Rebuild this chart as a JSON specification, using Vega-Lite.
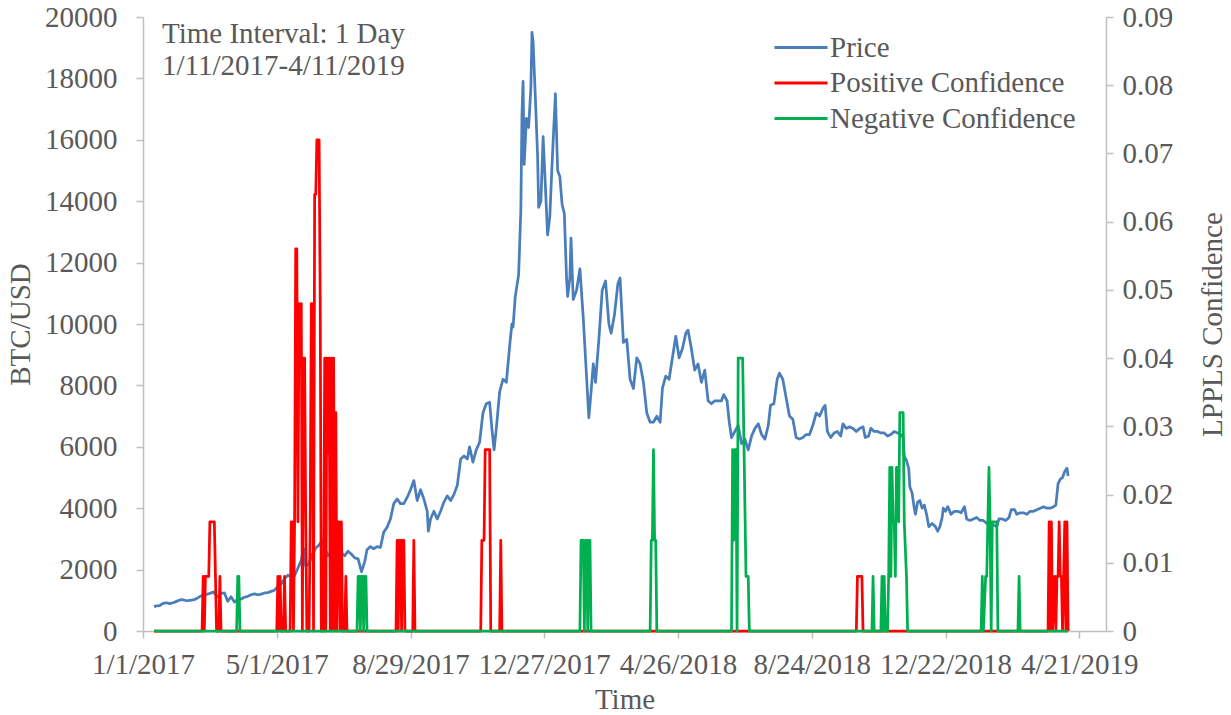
{
  "$schema": "https://vega.github.io/schema/vega-lite/v6.json",
  "width": 963,
  "height": 614,
  "autosize": {"type": "none"},
  "padding": {"left": 143, "top": 17, "right": 125, "bottom": 84},
  "background": "white",
  "config": {
    "view": {"stroke": null},
    "font": "Liberation Serif",
    "axis": {
      "domainColor": "#BFBFBF", "domainWidth": 1.5, "tickColor": "#BFBFBF", "tickWidth": 1.5,
      "grid": false, "labelColor": "#595959", "titleColor": "#595959",
      "labelFont": "Liberation Serif", "titleFont": "Liberation Serif",
      "labelFontSize": 29, "titleFontSize": 29, "titleFontWeight": "normal"
    },
    "axisX": {
      "labelExpr": "utcFormat(datum.value, '%-m/%-d/%Y')", "labelFlush": false, "labelOverlap": false,
      "tickSize": 7, "labelPadding": 12, "titlePadding": 6
    },
    "legend": {
      "orient": "none", "legendX": 642, "legendY": 14.5, "padding": 0,
      "symbolType": "M-1.83,0H1.83", "symbolSize": 841, "symbolStrokeWidth": 3,
      "labelFont": "Liberation Serif", "labelFontSize": 29, "labelColor": "#595959", "labelLimit": 0,
      "rowPadding": 4.5, "labelOffset": 13
    }
  },
  "datasets": {
    "price": [
      {"date":"2017-01-11","s":"Price","v":780},{"date":"2017-01-13","s":"Price","v":820},{"date":"2017-01-16","s":"Price","v":830},{"date":"2017-01-19","s":"Price","v":900},{"date":"2017-01-22","s":"Price","v":920},{"date":"2017-01-25","s":"Price","v":890},{"date":"2017-01-28","s":"Price","v":920},{"date":"2017-01-31","s":"Price","v":965},
      {"date":"2017-02-03","s":"Price","v":1010},{"date":"2017-02-06","s":"Price","v":1020},{"date":"2017-02-09","s":"Price","v":985},{"date":"2017-02-12","s":"Price","v":1000},{"date":"2017-02-15","s":"Price","v":1010},{"date":"2017-02-18","s":"Price","v":1055},{"date":"2017-02-21","s":"Price","v":1120},{"date":"2017-02-24","s":"Price","v":1170},{"date":"2017-02-27","s":"Price","v":1195},
      {"date":"2017-03-02","s":"Price","v":1225},{"date":"2017-03-05","s":"Price","v":1270},{"date":"2017-03-08","s":"Price","v":1150},{"date":"2017-03-10","s":"Price","v":1110},{"date":"2017-03-12","s":"Price","v":1230},{"date":"2017-03-15","s":"Price","v":1245},{"date":"2017-03-18","s":"Price","v":970},{"date":"2017-03-21","s":"Price","v":1115},{"date":"2017-03-24","s":"Price","v":940},{"date":"2017-03-27","s":"Price","v":1040},{"date":"2017-03-30","s":"Price","v":1040},
      {"date":"2017-04-02","s":"Price","v":1100},{"date":"2017-04-05","s":"Price","v":1130},{"date":"2017-04-08","s":"Price","v":1180},{"date":"2017-04-11","s":"Price","v":1210},{"date":"2017-04-14","s":"Price","v":1180},{"date":"2017-04-17","s":"Price","v":1200},{"date":"2017-04-20","s":"Price","v":1240},{"date":"2017-04-23","s":"Price","v":1250},{"date":"2017-04-26","s":"Price","v":1290},{"date":"2017-04-29","s":"Price","v":1330},
      {"date":"2017-05-02","s":"Price","v":1450},{"date":"2017-05-05","s":"Price","v":1530},{"date":"2017-05-08","s":"Price","v":1700},{"date":"2017-05-11","s":"Price","v":1820},{"date":"2017-05-14","s":"Price","v":1770},{"date":"2017-05-17","s":"Price","v":1800},{"date":"2017-05-20","s":"Price","v":2050},{"date":"2017-05-23","s":"Price","v":2300},{"date":"2017-05-25","s":"Price","v":2700},{"date":"2017-05-27","s":"Price","v":2100},{"date":"2017-05-30","s":"Price","v":2200},
      {"date":"2017-06-02","s":"Price","v":2500},{"date":"2017-06-05","s":"Price","v":2700},{"date":"2017-06-08","s":"Price","v":2800},{"date":"2017-06-11","s":"Price","v":2960},{"date":"2017-06-13","s":"Price","v":2700},{"date":"2017-06-16","s":"Price","v":2450},{"date":"2017-06-19","s":"Price","v":2600},{"date":"2017-06-22","s":"Price","v":2700},{"date":"2017-06-25","s":"Price","v":2550},{"date":"2017-06-28","s":"Price","v":2550},
      {"date":"2017-07-01","s":"Price","v":2450},{"date":"2017-07-04","s":"Price","v":2600},{"date":"2017-07-07","s":"Price","v":2500},{"date":"2017-07-10","s":"Price","v":2380},{"date":"2017-07-13","s":"Price","v":2350},{"date":"2017-07-16","s":"Price","v":1930},{"date":"2017-07-19","s":"Price","v":2270},{"date":"2017-07-21","s":"Price","v":2650},{"date":"2017-07-24","s":"Price","v":2750},{"date":"2017-07-27","s":"Price","v":2680},{"date":"2017-07-30","s":"Price","v":2750},
      {"date":"2017-08-02","s":"Price","v":2720},{"date":"2017-08-05","s":"Price","v":3220},{"date":"2017-08-08","s":"Price","v":3380},{"date":"2017-08-11","s":"Price","v":3650},{"date":"2017-08-14","s":"Price","v":4150},{"date":"2017-08-17","s":"Price","v":4300},{"date":"2017-08-20","s":"Price","v":4150},{"date":"2017-08-23","s":"Price","v":4150},{"date":"2017-08-26","s":"Price","v":4350},{"date":"2017-08-29","s":"Price","v":4600},
      {"date":"2017-09-01","s":"Price","v":4900},{"date":"2017-09-04","s":"Price","v":4250},{"date":"2017-09-07","s":"Price","v":4600},{"date":"2017-09-10","s":"Price","v":4300},{"date":"2017-09-13","s":"Price","v":3900},{"date":"2017-09-14","s":"Price","v":3250},{"date":"2017-09-16","s":"Price","v":3650},{"date":"2017-09-19","s":"Price","v":3900},{"date":"2017-09-22","s":"Price","v":3650},{"date":"2017-09-25","s":"Price","v":3900},{"date":"2017-09-28","s":"Price","v":4200},
      {"date":"2017-10-01","s":"Price","v":4400},{"date":"2017-10-04","s":"Price","v":4250},{"date":"2017-10-07","s":"Price","v":4450},{"date":"2017-10-10","s":"Price","v":4750},{"date":"2017-10-13","s":"Price","v":5600},{"date":"2017-10-16","s":"Price","v":5700},{"date":"2017-10-19","s":"Price","v":5600},{"date":"2017-10-21","s":"Price","v":6000},{"date":"2017-10-24","s":"Price","v":5500},{"date":"2017-10-27","s":"Price","v":5900},{"date":"2017-10-30","s":"Price","v":6150},
      {"date":"2017-11-02","s":"Price","v":7100},{"date":"2017-11-05","s":"Price","v":7400},{"date":"2017-11-08","s":"Price","v":7450},{"date":"2017-11-10","s":"Price","v":6600},{"date":"2017-11-12","s":"Price","v":5900},{"date":"2017-11-14","s":"Price","v":6600},{"date":"2017-11-17","s":"Price","v":7800},{"date":"2017-11-20","s":"Price","v":8200},{"date":"2017-11-23","s":"Price","v":8100},{"date":"2017-11-26","s":"Price","v":9300},{"date":"2017-11-28","s":"Price","v":10000},{"date":"2017-11-29","s":"Price","v":9900},
      {"date":"2017-12-01","s":"Price","v":10900},{"date":"2017-12-04","s":"Price","v":11600},{"date":"2017-12-06","s":"Price","v":13700},{"date":"2017-12-07","s":"Price","v":16800},{"date":"2017-12-08","s":"Price","v":17900},{"date":"2017-12-09","s":"Price","v":15200},{"date":"2017-12-11","s":"Price","v":16700},{"date":"2017-12-13","s":"Price","v":16400},{"date":"2017-12-15","s":"Price","v":17700},{"date":"2017-12-16","s":"Price","v":19500},{"date":"2017-12-17","s":"Price","v":19200},{"date":"2017-12-19","s":"Price","v":17400},{"date":"2017-12-21","s":"Price","v":15500},{"date":"2017-12-22","s":"Price","v":13800},{"date":"2017-12-24","s":"Price","v":14000},{"date":"2017-12-26","s":"Price","v":16100},{"date":"2017-12-28","s":"Price","v":14500},{"date":"2017-12-30","s":"Price","v":12900},
      {"date":"2018-01-01","s":"Price","v":13500},{"date":"2018-01-03","s":"Price","v":15200},{"date":"2018-01-06","s":"Price","v":17500},{"date":"2018-01-08","s":"Price","v":15000},{"date":"2018-01-10","s":"Price","v":14800},{"date":"2018-01-12","s":"Price","v":13900},{"date":"2018-01-14","s":"Price","v":13600},{"date":"2018-01-16","s":"Price","v":11500},{"date":"2018-01-17","s":"Price","v":10900},{"date":"2018-01-19","s":"Price","v":11500},{"date":"2018-01-20","s":"Price","v":12800},{"date":"2018-01-22","s":"Price","v":10800},{"date":"2018-01-25","s":"Price","v":11100},{"date":"2018-01-28","s":"Price","v":11800},{"date":"2018-01-31","s":"Price","v":10200},
      {"date":"2018-02-02","s":"Price","v":8900},{"date":"2018-02-05","s":"Price","v":6950},{"date":"2018-02-07","s":"Price","v":7800},{"date":"2018-02-09","s":"Price","v":8700},{"date":"2018-02-11","s":"Price","v":8100},{"date":"2018-02-14","s":"Price","v":9500},{"date":"2018-02-17","s":"Price","v":11100},{"date":"2018-02-20","s":"Price","v":11400},{"date":"2018-02-23","s":"Price","v":10000},{"date":"2018-02-25","s":"Price","v":9700},{"date":"2018-02-28","s":"Price","v":10300},
      {"date":"2018-03-03","s":"Price","v":11300},{"date":"2018-03-05","s":"Price","v":11500},{"date":"2018-03-08","s":"Price","v":9400},{"date":"2018-03-11","s":"Price","v":9500},{"date":"2018-03-14","s":"Price","v":8200},{"date":"2018-03-17","s":"Price","v":7900},{"date":"2018-03-20","s":"Price","v":8900},{"date":"2018-03-23","s":"Price","v":8700},{"date":"2018-03-26","s":"Price","v":8100},{"date":"2018-03-29","s":"Price","v":7100},
      {"date":"2018-04-01","s":"Price","v":6800},{"date":"2018-04-04","s":"Price","v":6800},{"date":"2018-04-07","s":"Price","v":7000},{"date":"2018-04-10","s":"Price","v":6800},{"date":"2018-04-12","s":"Price","v":7900},{"date":"2018-04-15","s":"Price","v":8300},{"date":"2018-04-18","s":"Price","v":8200},{"date":"2018-04-21","s":"Price","v":8900},{"date":"2018-04-24","s":"Price","v":9600},{"date":"2018-04-27","s":"Price","v":8900},{"date":"2018-04-30","s":"Price","v":9200},
      {"date":"2018-05-03","s":"Price","v":9700},{"date":"2018-05-05","s":"Price","v":9800},{"date":"2018-05-08","s":"Price","v":9200},{"date":"2018-05-11","s":"Price","v":8500},{"date":"2018-05-14","s":"Price","v":8700},{"date":"2018-05-17","s":"Price","v":8100},{"date":"2018-05-20","s":"Price","v":8500},{"date":"2018-05-23","s":"Price","v":7500},{"date":"2018-05-26","s":"Price","v":7400},{"date":"2018-05-29","s":"Price","v":7500},
      {"date":"2018-06-01","s":"Price","v":7500},{"date":"2018-06-04","s":"Price","v":7500},{"date":"2018-06-06","s":"Price","v":7700},{"date":"2018-06-09","s":"Price","v":7500},{"date":"2018-06-11","s":"Price","v":6800},{"date":"2018-06-13","s":"Price","v":6300},{"date":"2018-06-16","s":"Price","v":6500},{"date":"2018-06-19","s":"Price","v":6700},{"date":"2018-06-22","s":"Price","v":6100},{"date":"2018-06-25","s":"Price","v":6250},{"date":"2018-06-28","s":"Price","v":5900},
      {"date":"2018-07-01","s":"Price","v":6350},{"date":"2018-07-04","s":"Price","v":6600},{"date":"2018-07-07","s":"Price","v":6750},{"date":"2018-07-10","s":"Price","v":6400},{"date":"2018-07-13","s":"Price","v":6250},{"date":"2018-07-16","s":"Price","v":6700},{"date":"2018-07-18","s":"Price","v":7350},{"date":"2018-07-21","s":"Price","v":7400},{"date":"2018-07-24","s":"Price","v":8200},{"date":"2018-07-26","s":"Price","v":8400},{"date":"2018-07-29","s":"Price","v":8200},
      {"date":"2018-08-01","s":"Price","v":7600},{"date":"2018-08-04","s":"Price","v":7000},{"date":"2018-08-07","s":"Price","v":6900},{"date":"2018-08-10","s":"Price","v":6300},{"date":"2018-08-13","s":"Price","v":6250},{"date":"2018-08-16","s":"Price","v":6300},{"date":"2018-08-19","s":"Price","v":6400},{"date":"2018-08-22","s":"Price","v":6400},{"date":"2018-08-25","s":"Price","v":6700},{"date":"2018-08-28","s":"Price","v":7100},{"date":"2018-08-31","s":"Price","v":7000},
      {"date":"2018-09-03","s":"Price","v":7250},{"date":"2018-09-05","s":"Price","v":7350},{"date":"2018-09-07","s":"Price","v":6500},{"date":"2018-09-10","s":"Price","v":6300},{"date":"2018-09-13","s":"Price","v":6450},{"date":"2018-09-16","s":"Price","v":6500},{"date":"2018-09-19","s":"Price","v":6350},{"date":"2018-09-21","s":"Price","v":6750},{"date":"2018-09-24","s":"Price","v":6600},{"date":"2018-09-27","s":"Price","v":6650},{"date":"2018-09-30","s":"Price","v":6600},
      {"date":"2018-10-03","s":"Price","v":6500},{"date":"2018-10-06","s":"Price","v":6600},{"date":"2018-10-09","s":"Price","v":6650},{"date":"2018-10-11","s":"Price","v":6300},{"date":"2018-10-14","s":"Price","v":6350},{"date":"2018-10-16","s":"Price","v":6600},{"date":"2018-10-19","s":"Price","v":6500},{"date":"2018-10-22","s":"Price","v":6500},{"date":"2018-10-25","s":"Price","v":6450},{"date":"2018-10-28","s":"Price","v":6450},{"date":"2018-10-31","s":"Price","v":6350},
      {"date":"2018-11-03","s":"Price","v":6400},{"date":"2018-11-06","s":"Price","v":6500},{"date":"2018-11-09","s":"Price","v":6450},{"date":"2018-11-12","s":"Price","v":6400},{"date":"2018-11-14","s":"Price","v":6300},{"date":"2018-11-15","s":"Price","v":5700},{"date":"2018-11-17","s":"Price","v":5550},{"date":"2018-11-19","s":"Price","v":5300},{"date":"2018-11-20","s":"Price","v":4700},{"date":"2018-11-22","s":"Price","v":4500},{"date":"2018-11-24","s":"Price","v":4000},{"date":"2018-11-25","s":"Price","v":3800},{"date":"2018-11-27","s":"Price","v":4200},{"date":"2018-11-29","s":"Price","v":4250},
      {"date":"2018-12-01","s":"Price","v":4000},{"date":"2018-12-03","s":"Price","v":4100},{"date":"2018-12-05","s":"Price","v":3800},{"date":"2018-12-07","s":"Price","v":3400},{"date":"2018-12-10","s":"Price","v":3500},{"date":"2018-12-13","s":"Price","v":3400},{"date":"2018-12-15","s":"Price","v":3250},{"date":"2018-12-17","s":"Price","v":3400},{"date":"2018-12-19","s":"Price","v":3700},{"date":"2018-12-20","s":"Price","v":4000},{"date":"2018-12-22","s":"Price","v":3900},{"date":"2018-12-24","s":"Price","v":4050},{"date":"2018-12-27","s":"Price","v":3800},{"date":"2018-12-30","s":"Price","v":3900},
      {"date":"2019-01-02","s":"Price","v":3900},{"date":"2019-01-05","s":"Price","v":3850},{"date":"2019-01-08","s":"Price","v":4050},{"date":"2019-01-10","s":"Price","v":3650},{"date":"2019-01-13","s":"Price","v":3600},{"date":"2019-01-16","s":"Price","v":3650},{"date":"2019-01-19","s":"Price","v":3700},{"date":"2019-01-22","s":"Price","v":3600},{"date":"2019-01-25","s":"Price","v":3600},{"date":"2019-01-28","s":"Price","v":3500},{"date":"2019-01-31","s":"Price","v":3500},
      {"date":"2019-02-03","s":"Price","v":3450},{"date":"2019-02-06","s":"Price","v":3400},{"date":"2019-02-08","s":"Price","v":3650},{"date":"2019-02-11","s":"Price","v":3650},{"date":"2019-02-14","s":"Price","v":3600},{"date":"2019-02-17","s":"Price","v":3700},{"date":"2019-02-19","s":"Price","v":3950},{"date":"2019-02-22","s":"Price","v":3950},{"date":"2019-02-24","s":"Price","v":3800},{"date":"2019-02-27","s":"Price","v":3850},
      {"date":"2019-03-02","s":"Price","v":3850},{"date":"2019-03-05","s":"Price","v":3800},{"date":"2019-03-08","s":"Price","v":3900},{"date":"2019-03-11","s":"Price","v":3900},{"date":"2019-03-14","s":"Price","v":3950},{"date":"2019-03-17","s":"Price","v":4000},{"date":"2019-03-20","s":"Price","v":4050},{"date":"2019-03-23","s":"Price","v":4000},{"date":"2019-03-26","s":"Price","v":4000},{"date":"2019-03-29","s":"Price","v":4050},{"date":"2019-03-31","s":"Price","v":4100},
      {"date":"2019-04-02","s":"Price","v":4800},{"date":"2019-04-04","s":"Price","v":4950},{"date":"2019-04-06","s":"Price","v":5000},{"date":"2019-04-08","s":"Price","v":5200},{"date":"2019-04-10","s":"Price","v":5300},{"date":"2019-04-11","s":"Price","v":5050}
    ],
    "conf": [
      {"date":"2017-01-11","s":"Positive Confidence","v":0},{"date":"2017-02-23","s":"Positive Confidence","v":0},{"date":"2017-02-24","s":"Positive Confidence","v":0.008},{"date":"2017-02-25","s":"Positive Confidence","v":0},{"date":"2017-02-26","s":"Positive Confidence","v":0.008},{"date":"2017-03-01","s":"Positive Confidence","v":0.008},{"date":"2017-03-02","s":"Positive Confidence","v":0.016},{"date":"2017-03-06","s":"Positive Confidence","v":0.016},{"date":"2017-03-07","s":"Positive Confidence","v":0.008},{"date":"2017-03-08","s":"Positive Confidence","v":0},{"date":"2017-03-10","s":"Positive Confidence","v":0},{"date":"2017-03-11","s":"Positive Confidence","v":0.008},{"date":"2017-03-12","s":"Positive Confidence","v":0},
      {"date":"2017-05-01","s":"Positive Confidence","v":0},{"date":"2017-05-02","s":"Positive Confidence","v":0.008},{"date":"2017-05-03","s":"Positive Confidence","v":0},{"date":"2017-05-04","s":"Positive Confidence","v":0.008},{"date":"2017-05-05","s":"Positive Confidence","v":0},{"date":"2017-05-07","s":"Positive Confidence","v":0},{"date":"2017-05-08","s":"Positive Confidence","v":0.008},{"date":"2017-05-09","s":"Positive Confidence","v":0},{"date":"2017-05-13","s":"Positive Confidence","v":0},{"date":"2017-05-14","s":"Positive Confidence","v":0.016},{"date":"2017-05-15","s":"Positive Confidence","v":0.016},{"date":"2017-05-16","s":"Positive Confidence","v":0},{"date":"2017-05-17","s":"Positive Confidence","v":0.016},{"date":"2017-05-18","s":"Positive Confidence","v":0.056},{"date":"2017-05-19","s":"Positive Confidence","v":0.056},{"date":"2017-05-20","s":"Positive Confidence","v":0.016},{"date":"2017-05-21","s":"Positive Confidence","v":0.048},{"date":"2017-05-22","s":"Positive Confidence","v":0.04},{"date":"2017-05-23","s":"Positive Confidence","v":0.048},{"date":"2017-05-24","s":"Positive Confidence","v":0},{"date":"2017-05-25","s":"Positive Confidence","v":0.04},{"date":"2017-05-26","s":"Positive Confidence","v":0.04},{"date":"2017-05-27","s":"Positive Confidence","v":0.016},{"date":"2017-05-28","s":"Positive Confidence","v":0},{"date":"2017-05-30","s":"Positive Confidence","v":0},{"date":"2017-05-31","s":"Positive Confidence","v":0.016},{"date":"2017-06-01","s":"Positive Confidence","v":0.048},{"date":"2017-06-02","s":"Positive Confidence","v":0.048},{"date":"2017-06-03","s":"Positive Confidence","v":0},{"date":"2017-06-04","s":"Positive Confidence","v":0.064},{"date":"2017-06-05","s":"Positive Confidence","v":0.064},{"date":"2017-06-06","s":"Positive Confidence","v":0.072},{"date":"2017-06-08","s":"Positive Confidence","v":0.072},{"date":"2017-06-09","s":"Positive Confidence","v":0.048},{"date":"2017-06-10","s":"Positive Confidence","v":0},{"date":"2017-06-12","s":"Positive Confidence","v":0},{"date":"2017-06-13","s":"Positive Confidence","v":0.04},{"date":"2017-06-14","s":"Positive Confidence","v":0},{"date":"2017-06-15","s":"Positive Confidence","v":0.04},{"date":"2017-06-16","s":"Positive Confidence","v":0.026},{"date":"2017-06-17","s":"Positive Confidence","v":0.04},{"date":"2017-06-18","s":"Positive Confidence","v":0},{"date":"2017-06-19","s":"Positive Confidence","v":0.04},{"date":"2017-06-20","s":"Positive Confidence","v":0},{"date":"2017-06-21","s":"Positive Confidence","v":0.04},{"date":"2017-06-22","s":"Positive Confidence","v":0},{"date":"2017-06-23","s":"Positive Confidence","v":0.032},{"date":"2017-06-24","s":"Positive Confidence","v":0},{"date":"2017-06-25","s":"Positive Confidence","v":0.016},{"date":"2017-06-26","s":"Positive Confidence","v":0.016},{"date":"2017-06-27","s":"Positive Confidence","v":0},{"date":"2017-06-28","s":"Positive Confidence","v":0.016},{"date":"2017-06-29","s":"Positive Confidence","v":0},{"date":"2017-07-01","s":"Positive Confidence","v":0},{"date":"2017-07-02","s":"Positive Confidence","v":0.008},{"date":"2017-07-03","s":"Positive Confidence","v":0},
      {"date":"2017-08-16","s":"Positive Confidence","v":0},{"date":"2017-08-17","s":"Positive Confidence","v":0.0133},{"date":"2017-08-18","s":"Positive Confidence","v":0},{"date":"2017-08-19","s":"Positive Confidence","v":0.0133},{"date":"2017-08-20","s":"Positive Confidence","v":0.0133},{"date":"2017-08-21","s":"Positive Confidence","v":0},{"date":"2017-08-22","s":"Positive Confidence","v":0.0133},{"date":"2017-08-23","s":"Positive Confidence","v":0.0133},{"date":"2017-08-24","s":"Positive Confidence","v":0},{"date":"2017-08-31","s":"Positive Confidence","v":0},{"date":"2017-09-01","s":"Positive Confidence","v":0.0133},{"date":"2017-09-02","s":"Positive Confidence","v":0},
      {"date":"2017-10-31","s":"Positive Confidence","v":0},{"date":"2017-11-01","s":"Positive Confidence","v":0.0133},{"date":"2017-11-03","s":"Positive Confidence","v":0.0133},{"date":"2017-11-04","s":"Positive Confidence","v":0.0266},{"date":"2017-11-08","s":"Positive Confidence","v":0.0266},{"date":"2017-11-09","s":"Positive Confidence","v":0},{"date":"2017-11-17","s":"Positive Confidence","v":0},{"date":"2017-11-18","s":"Positive Confidence","v":0.0133},{"date":"2017-11-19","s":"Positive Confidence","v":0},
      {"date":"2018-10-03","s":"Positive Confidence","v":0},{"date":"2018-10-04","s":"Positive Confidence","v":0.008},{"date":"2018-10-08","s":"Positive Confidence","v":0.008},{"date":"2018-10-09","s":"Positive Confidence","v":0},
      {"date":"2019-03-24","s":"Positive Confidence","v":0},{"date":"2019-03-25","s":"Positive Confidence","v":0.016},{"date":"2019-03-26","s":"Positive Confidence","v":0},{"date":"2019-03-27","s":"Positive Confidence","v":0.016},{"date":"2019-03-28","s":"Positive Confidence","v":0},{"date":"2019-03-30","s":"Positive Confidence","v":0.008},{"date":"2019-03-31","s":"Positive Confidence","v":0},{"date":"2019-04-01","s":"Positive Confidence","v":0.008},{"date":"2019-04-02","s":"Positive Confidence","v":0.008},{"date":"2019-04-03","s":"Positive Confidence","v":0.016},{"date":"2019-04-04","s":"Positive Confidence","v":0.008},{"date":"2019-04-05","s":"Positive Confidence","v":0.008},{"date":"2019-04-06","s":"Positive Confidence","v":0},{"date":"2019-04-07","s":"Positive Confidence","v":0.008},{"date":"2019-04-08","s":"Positive Confidence","v":0.016},{"date":"2019-04-09","s":"Positive Confidence","v":0},{"date":"2019-04-10","s":"Positive Confidence","v":0.016},{"date":"2019-04-11","s":"Positive Confidence","v":0},
      {"date":"2017-01-11","s":"Negative Confidence","v":0},{"date":"2017-03-26","s":"Negative Confidence","v":0},{"date":"2017-03-27","s":"Negative Confidence","v":0.008},{"date":"2017-03-28","s":"Negative Confidence","v":0.008},{"date":"2017-03-29","s":"Negative Confidence","v":0},
      {"date":"2017-07-12","s":"Negative Confidence","v":0},{"date":"2017-07-13","s":"Negative Confidence","v":0.008},{"date":"2017-07-14","s":"Negative Confidence","v":0.008},{"date":"2017-07-15","s":"Negative Confidence","v":0},{"date":"2017-07-16","s":"Negative Confidence","v":0.008},{"date":"2017-07-17","s":"Negative Confidence","v":0.008},{"date":"2017-07-18","s":"Negative Confidence","v":0},{"date":"2017-07-19","s":"Negative Confidence","v":0.008},{"date":"2017-07-20","s":"Negative Confidence","v":0.008},{"date":"2017-07-21","s":"Negative Confidence","v":0},
      {"date":"2018-01-28","s":"Negative Confidence","v":0},{"date":"2018-01-29","s":"Negative Confidence","v":0.0133},{"date":"2018-01-31","s":"Negative Confidence","v":0.0133},{"date":"2018-02-01","s":"Negative Confidence","v":0},{"date":"2018-02-02","s":"Negative Confidence","v":0.0133},{"date":"2018-02-03","s":"Negative Confidence","v":0.0133},{"date":"2018-02-04","s":"Negative Confidence","v":0},{"date":"2018-02-05","s":"Negative Confidence","v":0.0133},{"date":"2018-02-06","s":"Negative Confidence","v":0.0133},{"date":"2018-02-07","s":"Negative Confidence","v":0},
      {"date":"2018-04-01","s":"Negative Confidence","v":0},{"date":"2018-04-02","s":"Negative Confidence","v":0.0133},{"date":"2018-04-03","s":"Negative Confidence","v":0.0133},{"date":"2018-04-04","s":"Negative Confidence","v":0.0266},{"date":"2018-04-05","s":"Negative Confidence","v":0.0133},{"date":"2018-04-06","s":"Negative Confidence","v":0.0133},{"date":"2018-04-07","s":"Negative Confidence","v":0},
      {"date":"2018-06-13","s":"Negative Confidence","v":0},{"date":"2018-06-14","s":"Negative Confidence","v":0.0266},{"date":"2018-06-15","s":"Negative Confidence","v":0.0133},{"date":"2018-06-16","s":"Negative Confidence","v":0.0266},{"date":"2018-06-17","s":"Negative Confidence","v":0.0266},{"date":"2018-06-18","s":"Negative Confidence","v":0},{"date":"2018-06-19","s":"Negative Confidence","v":0.04},{"date":"2018-06-23","s":"Negative Confidence","v":0.04},{"date":"2018-06-26","s":"Negative Confidence","v":0.008},{"date":"2018-06-28","s":"Negative Confidence","v":0.008},{"date":"2018-06-29","s":"Negative Confidence","v":0},
      {"date":"2018-10-17","s":"Negative Confidence","v":0},{"date":"2018-10-18","s":"Negative Confidence","v":0.008},{"date":"2018-10-19","s":"Negative Confidence","v":0},{"date":"2018-10-25","s":"Negative Confidence","v":0},{"date":"2018-10-26","s":"Negative Confidence","v":0.008},{"date":"2018-10-27","s":"Negative Confidence","v":0},{"date":"2018-10-28","s":"Negative Confidence","v":0.008},{"date":"2018-10-29","s":"Negative Confidence","v":0},{"date":"2018-10-31","s":"Negative Confidence","v":0},{"date":"2018-11-01","s":"Negative Confidence","v":0.008},{"date":"2018-11-02","s":"Negative Confidence","v":0.024},{"date":"2018-11-03","s":"Negative Confidence","v":0.008},{"date":"2018-11-04","s":"Negative Confidence","v":0.024},{"date":"2018-11-05","s":"Negative Confidence","v":0.016},{"date":"2018-11-06","s":"Negative Confidence","v":0.016},{"date":"2018-11-07","s":"Negative Confidence","v":0.008},{"date":"2018-11-08","s":"Negative Confidence","v":0.024},{"date":"2018-11-09","s":"Negative Confidence","v":0.024},{"date":"2018-11-10","s":"Negative Confidence","v":0.016},{"date":"2018-11-11","s":"Negative Confidence","v":0.032},{"date":"2018-11-14","s":"Negative Confidence","v":0.032},{"date":"2018-11-15","s":"Negative Confidence","v":0.016},{"date":"2018-11-17","s":"Negative Confidence","v":0.008},{"date":"2018-11-18","s":"Negative Confidence","v":0},
      {"date":"2019-01-23","s":"Negative Confidence","v":0},{"date":"2019-01-24","s":"Negative Confidence","v":0.008},{"date":"2019-01-25","s":"Negative Confidence","v":0},{"date":"2019-01-27","s":"Negative Confidence","v":0.008},{"date":"2019-01-28","s":"Negative Confidence","v":0.008},{"date":"2019-01-29","s":"Negative Confidence","v":0.016},{"date":"2019-01-30","s":"Negative Confidence","v":0.024},{"date":"2019-01-31","s":"Negative Confidence","v":0.016},{"date":"2019-02-01","s":"Negative Confidence","v":0},{"date":"2019-02-02","s":"Negative Confidence","v":0.016},{"date":"2019-02-06","s":"Negative Confidence","v":0.016},{"date":"2019-02-07","s":"Negative Confidence","v":0},{"date":"2019-02-25","s":"Negative Confidence","v":0},{"date":"2019-02-26","s":"Negative Confidence","v":0.008},{"date":"2019-02-27","s":"Negative Confidence","v":0},{"date":"2019-04-11","s":"Negative Confidence","v":0}
    ]
  },
  "layer": [
    {
      "layer": [
        {
          "data": {"name": "price"},
          "mark": {"type": "line", "strokeWidth": 2.75, "strokeJoin": "round"},
          "encoding": {
            "x": {"field": "date", "type": "temporal", "title": "Time",
              "scale": {"type": "utc", "domain": [{"year": 2017, "month": 1, "date": 1, "utc": true}, {"year": 2019, "month": 5, "date": 15, "utc": true}]},
              "axis": {"values": [{"year": 2017, "month": 1, "date": 1, "utc": true}, {"year": 2017, "month": 5, "date": 1, "utc": true}, {"year": 2017, "month": 8, "date": 29, "utc": true}, {"year": 2017, "month": 12, "date": 27, "utc": true}, {"year": 2018, "month": 4, "date": 26, "utc": true}, {"year": 2018, "month": 8, "date": 24, "utc": true}, {"year": 2018, "month": 12, "date": 22, "utc": true}, {"year": 2019, "month": 4, "date": 21, "utc": true}]}},
            "y": {"field": "v", "type": "quantitative", "scale": {"domain": [0, 20000]},
              "axis": {"title": "BTC/USD", "format": "d", "values": [0, 2000, 4000, 6000, 8000, 10000, 12000, 14000, 16000, 18000, 20000], "tickSize": 7, "labelPadding": 19, "titlePadding": 9}},
            "color": {"field": "s", "type": "nominal",
              "scale": {"domain": ["Price", "Positive Confidence", "Negative Confidence"], "range": ["#4A7EBB", "#FF0000", "#00B050"]},
              "legend": {"title": null}}
          }
        },
        {
          "data": {"values": [{"note": "annotation"}]},
          "mark": {"type": "text", "align": "left", "baseline": "top", "lineHeight": 32, "font": "Liberation Serif", "fontSize": 29, "color": "#595959"},
          "encoding": {
            "x": {"datum": {"year": 2017, "month": 1, "date": 18, "utc": true}, "type": "temporal", "title": "Time",
              "scale": {"type": "utc", "domain": [{"year": 2017, "month": 1, "date": 1, "utc": true}, {"year": 2019, "month": 5, "date": 15, "utc": true}]},
              "axis": {"values": [{"year": 2017, "month": 1, "date": 1, "utc": true}, {"year": 2017, "month": 5, "date": 1, "utc": true}, {"year": 2017, "month": 8, "date": 29, "utc": true}, {"year": 2017, "month": 12, "date": 27, "utc": true}, {"year": 2018, "month": 4, "date": 26, "utc": true}, {"year": 2018, "month": 8, "date": 24, "utc": true}, {"year": 2018, "month": 12, "date": 22, "utc": true}, {"year": 2019, "month": 4, "date": 21, "utc": true}]}},
            "y": {"datum": 19900, "type": "quantitative", "title": "BTC/USD", "scale": {"domain": [0, 20000]}},
            "text": {"value": ["Time Interval: 1 Day", "1/11/2017-4/11/2019"]}
          }
        }
      ]
    },
    {
      "data": {"name": "conf"},
      "layer": [
        {
          "transform": [{"filter": "datum.s === 'Positive Confidence'"}],
          "mark": {"type": "line", "strokeWidth": 2.75, "strokeJoin": "round"},
          "encoding": {
            "x": {"field": "date", "type": "temporal", "title": "Time",
              "scale": {"type": "utc", "domain": [{"year": 2017, "month": 1, "date": 1, "utc": true}, {"year": 2019, "month": 5, "date": 15, "utc": true}]},
              "axis": {"values": [{"year": 2017, "month": 1, "date": 1, "utc": true}, {"year": 2017, "month": 5, "date": 1, "utc": true}, {"year": 2017, "month": 8, "date": 29, "utc": true}, {"year": 2017, "month": 12, "date": 27, "utc": true}, {"year": 2018, "month": 4, "date": 26, "utc": true}, {"year": 2018, "month": 8, "date": 24, "utc": true}, {"year": 2018, "month": 12, "date": 22, "utc": true}, {"year": 2019, "month": 4, "date": 21, "utc": true}]}},
            "y": {"field": "v", "type": "quantitative", "scale": {"domain": [0, 0.09]},
              "axis": {"title": "LPPLS Confidence", "orient": "right", "values": [0, 0.01, 0.02, 0.03, 0.04, 0.05, 0.06, 0.07, 0.08, 0.09],
                "labelExpr": "datum.value == 0 ? '0' : format(datum.value, '.2f')", "tickSize": 7, "labelPadding": 9, "titlePadding": 55, "titleAngle": 270}},
            "color": {"field": "s", "type": "nominal",
              "scale": {"domain": ["Price", "Positive Confidence", "Negative Confidence"], "range": ["#4A7EBB", "#FF0000", "#00B050"]}}
          }
        },
        {
          "transform": [{"filter": "datum.s === 'Negative Confidence'"}],
          "mark": {"type": "line", "strokeWidth": 2.75, "strokeJoin": "round"},
          "encoding": {
            "x": {"field": "date", "type": "temporal", "title": "Time",
              "scale": {"type": "utc", "domain": [{"year": 2017, "month": 1, "date": 1, "utc": true}, {"year": 2019, "month": 5, "date": 15, "utc": true}]},
              "axis": {"values": [{"year": 2017, "month": 1, "date": 1, "utc": true}, {"year": 2017, "month": 5, "date": 1, "utc": true}, {"year": 2017, "month": 8, "date": 29, "utc": true}, {"year": 2017, "month": 12, "date": 27, "utc": true}, {"year": 2018, "month": 4, "date": 26, "utc": true}, {"year": 2018, "month": 8, "date": 24, "utc": true}, {"year": 2018, "month": 12, "date": 22, "utc": true}, {"year": 2019, "month": 4, "date": 21, "utc": true}]}},
            "y": {"field": "v", "type": "quantitative", "scale": {"domain": [0, 0.09]}},
            "color": {"field": "s", "type": "nominal",
              "scale": {"domain": ["Price", "Positive Confidence", "Negative Confidence"], "range": ["#4A7EBB", "#FF0000", "#00B050"]}}
          }
        }
      ]
    }
  ],
  "resolve": {"scale": {"y": "independent"}}
}
